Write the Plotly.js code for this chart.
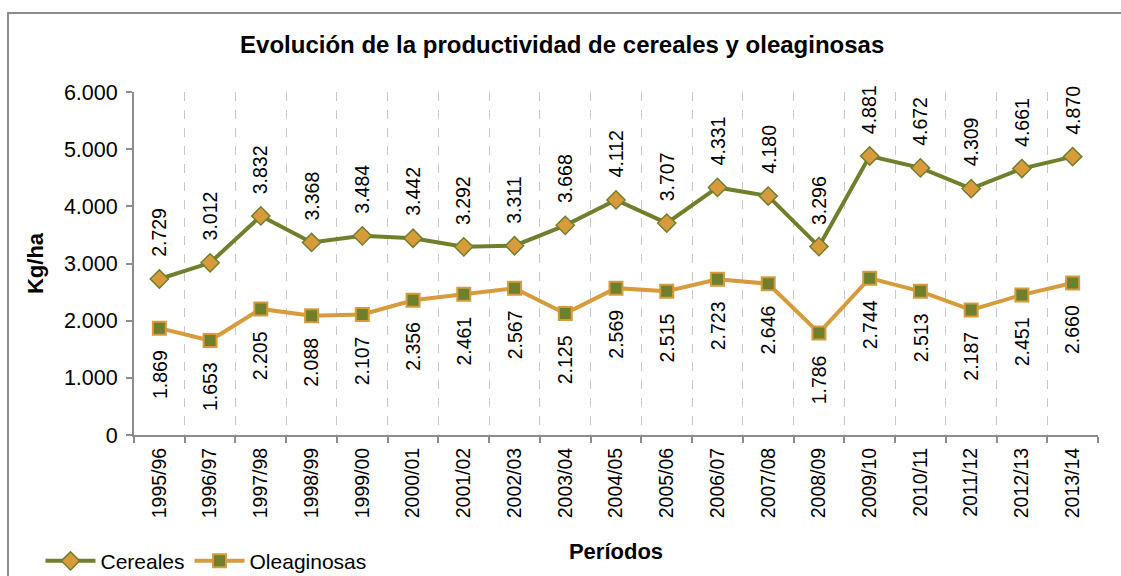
<!DOCTYPE html>
<html>
<head>
<meta charset="utf-8">
<script src="https://cdn.plot.ly/plotly-3.0.1.min.js"></script>
<style>
  html, body { margin: 0; padding: 0; background: #fff; overflow: hidden; }
  #chart { position: absolute; left: 0; top: 0; width: 1121px; height: 576px; }
  #frame { position: absolute; left: 7px; top: 12px; width: 1140px; height: 600px;
           border: 2px solid #8c8c8c; box-sizing: border-box; pointer-events: none; }
</style>
</head>
<body>
<div id="chart"></div>
<div id="frame"></div>
<script>
const periods = ["1995/96","1996/97","1997/98","1998/99","1999/00","2000/01","2001/02","2002/03","2003/04","2004/05","2005/06","2006/07","2007/08","2008/09","2009/10","2010/11","2011/12","2012/13","2013/14"];
const cereales = [2729,3012,3832,3368,3484,3442,3292,3311,3668,4112,3707,4331,4180,3296,4881,4672,4309,4661,4870];
const oleaginosas = [1869,1653,2205,2088,2107,2356,2461,2567,2125,2569,2515,2723,2646,1786,2744,2513,2187,2451,2660];

const green = "#6f7f2c";
const orange = "#d89b3c";
const FONT = "Liberation Sans, Arial, sans-serif";

function thousands(v) {
  const s = String(v);
  return s.length > 3 ? s.slice(0, s.length - 3) + "." + s.slice(-3) : s;
}

const traces = [
  {
    x: periods, y: cereales, name: "Cereales", type: "scatter", mode: "lines+markers",
    line: { color: green, width: 4 },
    marker: { symbol: "diamond", size: 14, color: orange, line: { color: green, width: 1.5 } },
    hoverinfo: "skip"
  },
  {
    x: periods, y: oleaginosas, name: "Oleaginosas", type: "scatter", mode: "lines+markers",
    line: { color: orange, width: 4 },
    marker: { symbol: "square", size: 13, color: green, line: { color: orange, width: 2 } },
    hoverinfo: "skip"
  }
];

const annotations = [];
periods.forEach((p, i) => {
  annotations.push({
    x: p, y: cereales[i], xref: "x", yref: "y", text: thousands(cereales[i]),
    textangle: -90, showarrow: false, yanchor: "bottom", yshift: 20,
    font: { family: FONT, size: 19.5, color: "#000" }
  });
  annotations.push({
    x: p, y: oleaginosas[i], xref: "x", yref: "y", text: thousands(oleaginosas[i]),
    textangle: -90, showarrow: false, yanchor: "top", yshift: -20,
    font: { family: FONT, size: 19.5, color: "#000" }
  });
});

const layout = {
  width: 1121, height: 576,
  paper_bgcolor: "rgba(0,0,0,0)", plot_bgcolor: "rgba(0,0,0,0)",
  margin: { l: 134, r: 23, t: 92, b: 141, autoexpand: false },
  separators: ",.",
  font: { family: FONT, size: 19.5, color: "#000" },
  title: {
    text: "<b>Evolución de la productividad de cereales y oleaginosas</b>",
    font: { family: FONT, size: 24, color: "#000" },
    x: 0.5015, xref: "container", xanchor: "center", y: 0.922, yref: "container", yanchor: "middle"
  },
  xaxis: {
    type: "category", range: [-0.5, 18.5], automargin: false,
    tickson: "boundaries", ticks: "outside", ticklen: 6, tickcolor: "#8c8c8c", tickwidth: 2,
    showgrid: true, gridcolor: "#c8c8c8", griddash: "dash", gridwidth: 1,
    showline: true, linecolor: "#8c8c8c", linewidth: 2,
    tickangle: -90, tickfont: { family: FONT, size: 19.5 }, ticklabelstandoff: 3,
    title: { text: "<b>Períodos</b>", font: { family: FONT, size: 22 }, standoff: 26 },
    zeroline: false, fixedrange: true
  },
  yaxis: {
    range: [0, 6000], tickvals: [0,1000,2000,3000,4000,5000,6000], automargin: false,
    tickformat: ",d", ticks: "outside", ticklen: 6, tickcolor: "#8c8c8c", tickwidth: 2,
    showline: true, linecolor: "#8c8c8c", linewidth: 2, showgrid: false, zeroline: false,
    tickfont: { family: FONT, size: 21.5 }, ticklabelstandoff: 4,
    title: { text: "<b>Kg/ha</b>", font: { family: FONT, size: 22 }, standoff: 14 },
    fixedrange: true
  },
  showlegend: true,
  legend: {
    orientation: "h", x: -0.097, xanchor: "left", y: -0.368, yanchor: "middle",
    font: { family: FONT, size: 21 }, bgcolor: "rgba(0,0,0,0)", itemwidth: 50,
    tracegroupgap: 0
  },
  annotations: annotations
};

Plotly.newPlot("chart", traces, layout, { staticPlot: true, displayModeBar: false });
</script>
</body>
</html>
